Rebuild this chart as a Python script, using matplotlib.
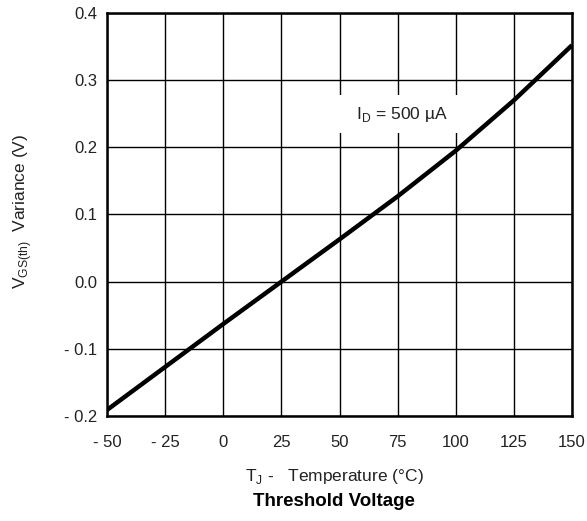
import matplotlib
matplotlib.use("Agg")
import matplotlib.pyplot as plt
import numpy as np

plt.rcParams['font.family'] = ['Liberation Sans', 'DejaVu Sans']

temp_c = [-50, -25, 0, 25, 50, 75, 100, 125, 150]
vgs_var = [-0.191, -0.127, -0.063, 0.0, 0.063, 0.127, 0.195, 0.270, 0.352]

xticks = [-50, -25, 0, 25, 50, 75, 100, 125, 150]
xtick_labels = ['- 50', '- 25', '0', '25', '50', '75', '100', '125', '150']
yticks = [-0.2, -0.1, 0.0, 0.1, 0.2, 0.3, 0.4]
ytick_labels = ['- 0.2', '- 0.1', '0.0', '0.1', '0.2', '0.3', '0.4']

W, H = 587, 521
fig = plt.figure(figsize=(W / 100, H / 100), dpi=100)
ax = fig.add_axes([107/W, 1 - 416/H, (572-107)/W, (416-13)/H])

ax.plot(temp_c, vgs_var, color='black', lw=3.2, solid_capstyle='butt', zorder=3)

ax.set_xlim(-50, 150)
ax.set_ylim(-0.2, 0.4)
ax.set_xticks(xticks)
ax.set_xticklabels(xtick_labels)
ax.set_yticks(yticks)
ax.set_yticklabels(ytick_labels)
ax.tick_params(length=0, labelsize=12, colors='#222222')
ax.tick_params(axis='x', pad=14)
ax.tick_params(axis='y', pad=7)
ax.grid(True, color='black', lw=1)
for s in ax.spines.values():
    s.set_linewidth(1.8)

ax.text(75.8, 0.2496, r'   I$_\mathregular{D}$ = 500 µA   ', fontsize=12.5, ha='center', va='center',
        color='#222222', bbox=dict(facecolor='white', edgecolor='none', pad=7), zorder=2)

fig.text(334/W, 1 - 476/H, r'T$_\mathregular{J}$ -   Temperature (°C)', fontsize=12.5,
         ha='center', va='center', color='#222222')
fig.text(334/W, 1 - 502/H, 'Threshold Voltage', fontsize=13.5, fontweight='bold',
         ha='center', va='center')
fig.text(23/W, 1 - 211/H, r'V$_\mathregular{GS(th)}$  Variance (V)', fontsize=12.5,
         rotation=90, ha='center', va='center', color='#222222')

fig.savefig('out.png', dpi=100)
